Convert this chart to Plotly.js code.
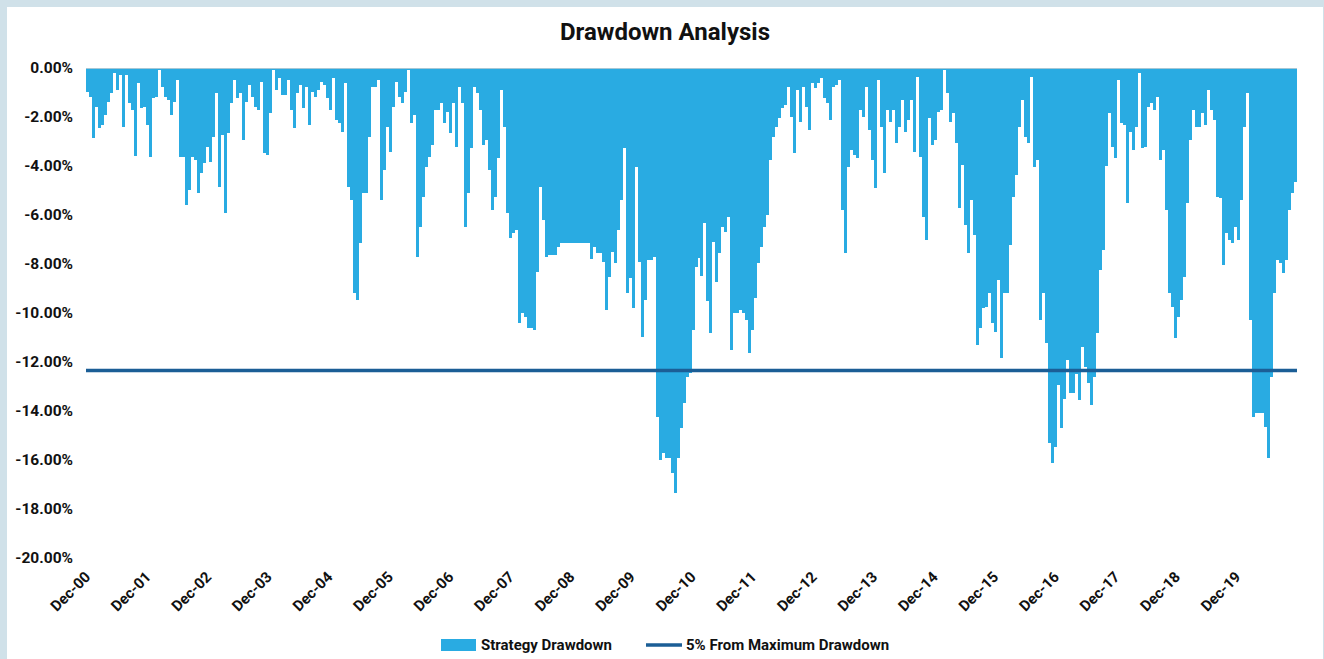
<!DOCTYPE html>
<html><head><meta charset="utf-8">
<script src="https://cdn.plot.ly/plotly-3.0.1.min.js"></script>
<style>
html,body{margin:0;padding:0;background:#d0e1e9;width:1324px;height:659px;overflow:hidden;}
#chart{position:absolute;left:7px;top:7px;width:1316px;height:652px;background:#fff;}
</style></head><body><div id="chart"></div>
<script>
const seriesStart = '2000-12-01';
const seriesEnd = '2020-12-01';
// Strategy drawdown depth (%), one value per bar in time order
const drawdownDepthPct = [
0.97,1.17,2.87,1.58,2.46,2.33,1.92,1.37,1.03,0.22,
0.90,0.29,2.39,0.29,1.44,1.71,3.60,0.60,1.65,1.58,
2.33,3.62,1.24,1.17,0.08,0.76,1.17,1.31,1.92,1.37,
0.49,3.62,3.62,5.59,4.98,3.62,3.76,5.12,4.30,3.89,
3.21,3.82,2.80,1.03,4.84,2.73,5.93,2.67,1.44,0.49,
1.24,1.03,2.94,1.37,0.69,1.17,1.58,1.71,0.56,3.48,
3.55,1.85,0.08,0.90,0.42,1.10,1.10,0.49,
1.71,2.46,1.03,0.69,1.65,0.76,2.33,0.97,1.17,0.90,
0.56,0.69,1.24,1.71,0.42,2.12,2.26,2.60,0.63,4.84,
5.39,9.20,9.47,7.16,5.12,5.12,2.80,0.76,0.76,0.49,
5.39,4.16,2.39,3.41,1.58,0.56,1.17,1.44,0.97,0.08,
2.26,1.92,7.70,6.48,5.25,4.03,3.62,3.14,1.71,1.71,
1.44,2.26,1.78,2.67,1.44,3.21,0.76,1.44,6.48,5.12,
3.28,0.76,1.03,1.71,3.14,2.94,4.16,
5.80,5.25,3.69,0.90,2.39,5.93,6.95,6.75,6.61,10.42,
10.01,10.15,10.63,10.63,10.69,8.31,4.84,6.20,7.70,7.63,
7.63,7.63,7.29,7.13,7.13,7.13,7.13,7.13,7.13,7.13,
7.13,7.13,7.13,7.81,7.29,7.54,7.56,7.90,9.88,8.52,
7.50,7.97,6.61,5.39,3.28,9.20,8.59,9.81,4.03,7.90,
10.97,9.47,7.84,7.84,7.70,
14.23,16.00,15.73,15.93,15.93,16.55,17.35,15.90,14.71,13.69,
12.60,12.46,10.69,8.11,7.77,
8.50,6.34,9.50,10.80,7.09,8.72,7.54,6.48,6.68,6.07,
11.51,10.01,10.01,9.88,10.01,10.29,11.65,10.69,9.40,7.97,
7.29,6.48,6.00,3.76,2.80,2.39,2.05,1.65,1.51,0.76,
1.99,3.48,0.90,2.19,0.76,1.58,2.53,0.63,0.83,0.63,
0.42,1.24,1.44,2.12,0.76,0.69,0.49,5.80,7.56,4.03,
3.35,3.55,3.69,1.71,1.99,0.76,2.53,3.76,4.91,0.49,
2.39,4.30,1.71,
2.19,1.71,3.07,2.39,1.31,2.60,2.12,1.31,3.41,0.35,
3.62,6.07,7.02,2.05,3.14,2.94,1.78,1.71,0.08,1.03,
2.19,1.85,3.07,5.73,3.96,6.41,7.56,5.39,6.82,11.31,
10.63,9.81,9.74,9.20,10.42,10.76,8.65,11.85,9.20,9.20,
7.22,5.25,4.37,2.39,1.31,2.80,3.07,0.35,4.03,3.76,
10.29,9.20,11.24,
15.32,16.13,15.45,12.94,14.70,13.49,11.92,13.28,13.28,12.50,
13.55,11.37,12.19,12.87,13.75,12.60,10.83,
8.24,7.43,4.00,1.85,3.21,3.69,0.50,2.26,2.33,5.50,
2.60,3.35,2.39,0.22,3.28,3.21,1.58,1.44,1.71,1.17,
3.76,3.35,5.80,9.20,9.74,11.03,10.15,9.47,8.52,5.52,
2.94,1.71,2.39,2.39,1.85,2.33,0.90,1.71,2.12,5.25,
5.32,8.04,6.75,7.02,7.16,6.48,7.02,5.39,2.39,1.03,
10.29,14.23,14.09,14.09,14.09,14.64,15.93,12.60,9.20,7.84,
7.97,8.38,7.84,5.80,5.12,4.64
];
const thresholdPct = -12.35;
const xTickDates = ['2000-12-01','2001-12-01','2002-12-01','2003-12-01','2004-12-01','2005-12-01','2006-12-01','2007-12-01','2008-12-01','2009-12-01','2010-12-01','2011-12-01','2012-12-01','2013-12-01','2014-12-01','2015-12-01','2016-12-01','2017-12-01','2018-12-01','2019-12-01'];
const xTickLabels = ['Dec-00','Dec-01','Dec-02','Dec-03','Dec-04','Dec-05','Dec-06','Dec-07','Dec-08','Dec-09','Dec-10','Dec-11','Dec-12','Dec-13','Dec-14','Dec-15','Dec-16','Dec-17','Dec-18','Dec-19'];
const yTickValues = [0,-2,-4,-6,-8,-10,-12,-14,-16,-18,-20];
const yTickLabels = ['0.00%','-2.00%','-4.00%','-6.00%','-8.00%','-10.00%','-12.00%','-14.00%','-16.00%','-18.00%','-20.00%'];
const seriesNames = ['Strategy Drawdown','5% From Maximum Drawdown'];

const t0 = Date.parse(seriesStart), t1 = Date.parse(seriesEnd);
const N = drawdownDepthPct.length;
const step = (t1 - t0) / N;
const fmt = ms => new Date(ms).toISOString().replace('T',' ').replace('Z','');
const barX = drawdownDepthPct.map((_, i) => fmt(t0 + (i + 0.5) * step));
const barY = drawdownDepthPct.map(v => -v);

const BAR = '#29abe2', LINE = '#1b5e96';
const W = 1316, H = 652, ML = 79, MR = 26, MT = 61, MB = 101;
const PW = W - ML - MR, PH = H - MT - MB;
const px = x => (x - ML) / PW;
const py = y => (H - MB - y) / PH;

const traces = [
  {type:'bar', x:barX, y:barY, width:step, name:seriesNames[0],
   marker:{color:BAR, line:{width:0}}, showlegend:false, hoverinfo:'x+y'},
  {type:'scatter', mode:'lines', x:[seriesStart, seriesEnd], y:[thresholdPct, thresholdPct],
   name:seriesNames[1], line:{color:LINE, width:3.5}, showlegend:false}
];

const legendFont = {family:'Roboto, Arial, sans-serif', size:15, color:'#111', weight:700};
const layout = {
  width:W, height:H,
  margin:{l:ML, r:MR, t:MT, b:MB},
  paper_bgcolor:'#ffffff', plot_bgcolor:'#ffffff',
  title:{text:'<b>Drawdown Analysis</b>', font:{family:'Roboto, Arial, sans-serif', size:24, color:'#111'},
         x:0.5, xref:'container', xanchor:'center', y:1-25/H, yref:'container', yanchor:'middle'},
  bargap:0,
  showlegend:false,
  xaxis:{type:'date', range:[seriesStart, seriesEnd], tickmode:'array', tickvals:xTickDates, ticktext:xTickLabels,
         tickangle:-45, tickfont:{family:'Roboto, Arial, sans-serif', size:15, color:'#111', weight:700},
         showgrid:false, zeroline:false, showline:false, ticks:'', ticklabelstandoff:6, fixedrange:true},
  yaxis:{range:[-20, 0], tickmode:'array', tickvals:yTickValues, ticktext:yTickLabels,
         tickfont:{family:'Roboto, Arial, sans-serif', size:15.5, color:'#111', weight:700},
         showgrid:false, zeroline:false, showline:false, ticks:'', ticklabelstandoff:12, fixedrange:true},
  shapes:[
    {type:'line', xref:'paper', yref:'y', x0:0, x1:1, y0:0, y1:0, line:{color:'#d0d0d0', width:1.5}, layer:'above'},
    {type:'rect', xref:'paper', yref:'paper', x0:px(434), x1:px(469), y0:py(644), y1:py(632), fillcolor:BAR, line:{width:0}},
    {type:'line', xref:'paper', yref:'paper', x0:px(639), x1:px(675), y0:py(638), y1:py(638), line:{color:LINE, width:3.5}}
  ],
  annotations:[
    {xref:'paper', yref:'paper', x:px(472), y:py(638), xanchor:'left', yanchor:'middle', showarrow:false,
     text:seriesNames[0], font:legendFont},
    {xref:'paper', yref:'paper', x:px(677), y:py(638), xanchor:'left', yanchor:'middle', showarrow:false,
     text:seriesNames[1], font:legendFont}
  ]
};
Plotly.newPlot('chart', traces, layout, {displayModeBar:false, staticPlot:true});
</script></body></html>
